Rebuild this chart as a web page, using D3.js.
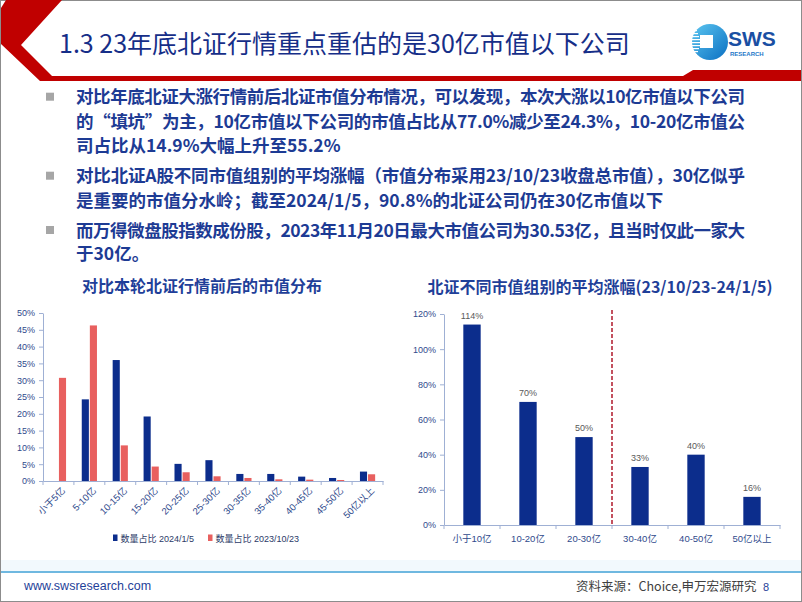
<!DOCTYPE html>
<html>
<head>
<meta charset="utf-8">
<script src="https://cdn.jsdelivr.net/npm/d3@7"></script>
<style>
  body { margin: 0; background: #fff; }
  svg { display: block; }
</style>
</head>
<body>
<svg id="slide" width="802" height="602"></svg>
<script>
// ---- data ----
const distCats = ['小于5亿', '5-10亿', '10-15亿', '15-20亿', '20-25亿', '25-30亿', '30-35亿', '35-40亿', '40-45亿', '45-50亿', '50亿以上'];
const share2024 = [0, 24.3, 36.0, 19.2, 5.1, 6.2, 2.1, 2.1, 1.3, 0.9, 2.8];
const share2023 = [30.7, 46.3, 10.6, 4.3, 2.6, 1.4, 0.9, 0.5, 0.4, 0.3, 2.0];
const distTicks = [0, 5, 10, 15, 20, 25, 30, 35, 40, 45, 50];
const distSeries = ['数量占比 2024/1/5', '数量占比 2023/10/23'];

const gainCats = ['小于10亿', '10-20亿', '20-30亿', '30-40亿', '40-50亿', '50亿以上'];
const gainValues = [114, 70, 50, 33, 40, 16];
const gainTicks = [0, 20, 40, 60, 80, 100, 120];

const titleText = '1.3 23年底北证行情重点重估的是30亿市值以下公司';
const bullets = [
  ['对比年底北证大涨行情前后北证市值分布情况，可以发现，本次大涨以10亿市值以下公司',
   '的“填坑”为主，10亿市值以下公司的市值占比从77.0%减少至24.3%，10-20亿市值公',
   '司占比从14.9%大幅上升至55.2%'],
  ['对比北证A股不同市值组别的平均涨幅（市值分布采用23/10/23收盘总市值），30亿似乎',
   '是重要的市值分水岭；截至2024/1/5，90.8%的北证公司仍在30亿市值以下'],
  ['而万得微盘股指数成份股，2023年11月20日最大市值公司为30.53亿，且当时仅此一家大',
   '于30亿。']
];

const CJK = '"Noto Sans CJK SC", "Noto Sans", sans-serif';
const LAT = '"Liberation Sans", Arial, "Noto Sans CJK SC", sans-serif';
const navy = '#0c2d8c';
const red = '#e8605f';
const tickBlue = '#2f4a8c';
const axisColor = '#9fb0d4';

const svg = d3.select('#slide');

// ---- slide frame and header ----
svg.append('rect').attr('x', 0.5).attr('y', 0.5).attr('width', 801).attr('height', 601)
  .attr('fill', '#fff').attr('stroke', '#8c8c8c');

svg.append('path')
  .attr('d', 'M6,0 L62,0 L21,45 L52,76 L683,76 L693,70 L801,70 L801,81 L40,81 L1,44 L1,8 Z')
  .attr('fill', '#c00000');

svg.append('text')
  .attr('x', 59).attr('y', 53)
  .attr('font-family', CJK).attr('font-size', 25).attr('fill', '#162e88')
  .text(titleText);

// logo
const defs = svg.append('defs');
const lg = defs.append('linearGradient').attr('id', 'logoGrad')
  .attr('x1', 0).attr('y1', 0).attr('x2', 1).attr('y2', 1);
lg.append('stop').attr('offset', '0%').attr('stop-color', '#5cc6f0');
lg.append('stop').attr('offset', '100%').attr('stop-color', '#0b6fc2');

const logo = svg.append('g');
logo.append('circle').attr('cx', 710).attr('cy', 42).attr('r', 18).attr('fill', 'url(#logoGrad)');
d3.range(0, 9).forEach(i => {
  logo.append('rect').attr('x', 690).attr('y', 30 + i * 3).attr('width', 11 - Math.abs(i - 4))
    .attr('height', 1.2).attr('fill', '#fff');
});
logo.append('rect').attr('x', 700).attr('y', 35).attr('width', 13).attr('height', 13).attr('fill', '#fff');
logo.append('text').attr('x', 728).attr('y', 46)
  .attr('font-family', LAT).attr('font-weight', 'bold').attr('font-size', 21)
  .attr('fill', '#1a4fa3').text('SWS');
logo.append('text').attr('x', 730).attr('y', 55.5)
  .attr('font-family', LAT).attr('font-weight', 'bold').attr('font-size', 6)
  .attr('fill', '#1e78c8').text('RESEARCH');

// ---- bullet text ----
const lineCenters = [[96.7, 121, 145], [175.7, 200], [230, 253.3]];
bullets.forEach((lines, bi) => {
  svg.append('rect').attr('x', 46).attr('y', lineCenters[bi][0] - 4)
    .attr('width', 8).attr('height', 8).attr('fill', '#a6a6a6');
  lines.forEach((ln, li) => {
    const t = svg.append('text')
      .attr('x', 76).attr('y', lineCenters[bi][li] + 6.5)
      .attr('font-family', CJK).attr('font-weight', 'bold').attr('font-size', 17.5)
      .attr('fill', '#1d3b94').text(ln);
    if (li < lines.length - 1) t.attr('textLength', 669).attr('lengthAdjust', 'spacing');
  });
});

// ---- left chart: 市值分布 ----
svg.append('text').attr('x', 202).attr('y', 292).attr('text-anchor', 'middle')
  .attr('font-family', CJK).attr('font-weight', 'bold').attr('font-size', 16)
  .attr('fill', '#1f3f99').text('对比本轮北证行情前后的市值分布');

const x1 = d3.scaleBand().domain(distCats).range([43, 383]);
const y1 = d3.scaleLinear().domain([0, 50]).range([481, 313]);
const sub = d3.scaleBand().domain([0, 1]).range([-7.6, 7.6]).paddingInner(0.12);

const g1 = svg.append('g');
const yAxis1 = g1.append('g').attr('transform', 'translate(43,0)')
  .call(d3.axisLeft(y1).tickValues(distTicks).tickFormat(d => d + '%').tickSize(4).tickSizeOuter(0));
g1.append('g').attr('transform', 'translate(0,481)')
  .call(d3.axisBottom(x1).tickSize(0).tickFormat(''));
g1.selectAll('.domain, .tick line').attr('stroke', axisColor);
yAxis1.selectAll('text').attr('font-family', LAT).attr('font-size', 9).attr('fill', tickBlue).attr('dx', '-1');

// category boundary ticks
g1.selectAll('.bnd').data(distCats.concat(['end'])).join('line')
  .attr('x1', (d, i) => i < distCats.length ? x1(d) : x1.range()[1])
  .attr('x2', (d, i) => i < distCats.length ? x1(d) : x1.range()[1])
  .attr('y1', 481).attr('y2', 485).attr('stroke', axisColor);

const barData1 = distCats.flatMap((c, i) => [
  { c, k: 0, v: share2024[i] },
  { c, k: 1, v: share2023[i] }
]);
g1.selectAll('.bar').data(barData1.filter(d => d.v > 0)).join('rect')
  .attr('x', d => x1(d.c) + x1.bandwidth() / 2 + sub(d.k))
  .attr('width', sub.bandwidth())
  .attr('y', d => y1(d.v))
  .attr('height', d => y1(0) - y1(d.v))
  .attr('fill', d => d.k === 0 ? navy : red);

g1.selectAll('.xl').data(distCats).join('text')
  .attr('transform', d => `translate(${x1(d) + x1.bandwidth() / 2 + 5},489) rotate(-45)`)
  .attr('text-anchor', 'end').attr('dy', '0.35em')
  .attr('font-family', LAT).attr('font-size', 9.5).attr('fill', tickBlue)
  .text(d => d);

// legend
const leg = g1.append('g');
[[113, 0], [208, 1]].forEach(([lx, k]) => {
  leg.append('rect').attr('x', lx).attr('y', 534.5).attr('width', 4.5).attr('height', 6.5)
    .attr('fill', k === 0 ? navy : red);
  leg.append('text').attr('x', lx + 7.5).attr('y', 541.5)
    .attr('font-family', LAT).attr('font-size', 9).attr('fill', '#2b3a67')
    .text(distSeries[k]);
});

// ---- right chart: 平均涨幅 ----
svg.append('text').attr('x', 600).attr('y', 293).attr('text-anchor', 'middle')
  .attr('font-family', CJK).attr('font-weight', 'bold').attr('font-size', 16)
  .attr('fill', '#1f3f99').text('北证不同市值组别的平均涨幅(23/10/23-24/1/5)');

const x2 = d3.scaleBand().domain(gainCats).range([444, 780]).paddingInner(0.69).paddingOuter(0.345);
const xb2 = d3.scaleBand().domain(gainCats).range([444, 780]);
const y2 = d3.scaleLinear().domain([0, 120]).range([525, 314]);

const g2 = svg.append('g');
const yAxis2 = g2.append('g').attr('transform', 'translate(444,0)')
  .call(d3.axisLeft(y2).tickValues(gainTicks).tickFormat(d => d + '%').tickSize(4).tickSizeOuter(0));
g2.append('g').attr('transform', 'translate(0,525)')
  .call(d3.axisBottom(xb2).tickSize(0).tickFormat(''));
g2.selectAll('.domain, .tick line').attr('stroke', axisColor);
yAxis2.selectAll('text').attr('font-family', LAT).attr('font-size', 9).attr('fill', tickBlue).attr('dx', '-1');

g2.selectAll('.bnd').data(gainCats.concat(['end'])).join('line')
  .attr('x1', (d, i) => i < gainCats.length ? xb2(d) : xb2.range()[1])
  .attr('x2', (d, i) => i < gainCats.length ? xb2(d) : xb2.range()[1])
  .attr('y1', 525).attr('y2', 529).attr('stroke', axisColor);

g2.selectAll('.bar').data(gainCats).join('rect')
  .attr('x', d => x2(d))
  .attr('width', x2.bandwidth())
  .attr('y', (d, i) => y2(gainValues[i]))
  .attr('height', (d, i) => y2(0) - y2(gainValues[i]))
  .attr('fill', navy);

g2.selectAll('.vl').data(gainCats).join('text')
  .attr('x', d => x2(d) + x2.bandwidth() / 2)
  .attr('y', (d, i) => y2(gainValues[i]) - 6)
  .attr('text-anchor', 'middle')
  .attr('font-family', LAT).attr('font-size', 9).attr('fill', '#595959')
  .text((d, i) => gainValues[i] + '%');

g2.selectAll('.xl').data(gainCats).join('text')
  .attr('x', d => xb2(d) + xb2.bandwidth() / 2)
  .attr('y', 541.5)
  .attr('text-anchor', 'middle')
  .attr('font-family', LAT).attr('font-size', 9.5).attr('fill', tickBlue)
  .text(d => d);

// 30亿 divider
g2.append('line')
  .attr('x1', xb2('30-40亿')).attr('x2', xb2('30-40亿'))
  .attr('y1', 310).attr('y2', 525)
  .attr('stroke', '#b0192b').attr('stroke-width', 1.5).attr('stroke-dasharray', '4,2');

// ---- footer ----
svg.append('rect').attr('x', 1).attr('y', 560).attr('width', 800).attr('height', 11).attr('fill', '#f2f9fd');
svg.append('line').attr('x1', 1).attr('x2', 801).attr('y1', 572).attr('y2', 572)
  .attr('stroke', '#3fa0d6').attr('stroke-width', 1.5);
svg.append('text').attr('x', 24).attr('y', 590)
  .attr('font-family', LAT).attr('font-size', 12.5).attr('fill', '#1f3f99')
  .text('www.swsresearch.com');
svg.append('text').attr('x', 576).attr('y', 591)
  .attr('font-family', CJK).attr('font-size', 12.5).attr('fill', '#404040')
  .text('资料来源：Choice,申万宏源研究');
svg.append('text').attr('x', 763).attr('y', 591)
  .attr('font-family', LAT).attr('font-size', 11).attr('fill', '#1f3f99')
  .text('8');
</script>
</body>
</html>
